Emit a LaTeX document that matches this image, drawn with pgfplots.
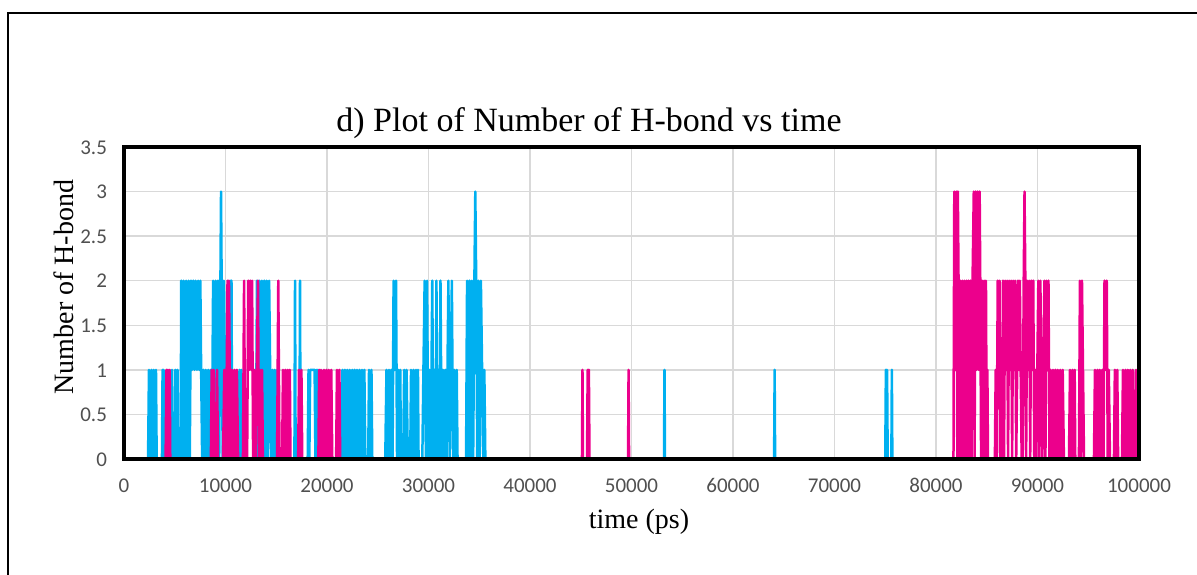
\documentclass[border=0pt]{standalone}
\usepackage{pgfplots}
\pgfplotsset{compat=1.18}
\usepackage{fontspec}
\setmainfont{Liberation Serif}
\newfontfamily\tickfont{Carlito}
\definecolor{hbblue}{RGB}{0,176,240}
\definecolor{hbpink}{RGB}{236,0,140}
\definecolor{gridgray}{RGB}{217,217,217}
\definecolor{tickgray}{RGB}{80,80,80}
\begin{document}
\begin{tikzpicture}[x=1pt,y=1pt]
\useasboundingbox (0,0) rectangle (598.5,287);
\begin{axis}[
  name=ax,
  at={(62pt,57.5pt)}, anchor=south west,
  width=507.5pt, height=156pt, scale only axis,
  xmin=0, xmax=100000, ymin=0, ymax=3.5,
  xtick={0,10000,20000,30000,40000,50000,60000,70000,80000,90000,100000},
  ytick={0,0.5,1,1.5,2,2.5,3,3.5},
  scaled x ticks=false,
  xticklabel style={/pgf/number format/fixed, /pgf/number format/1000 sep={}},
  /pgf/number format/assume math mode=true,
  typeset ticklabels with strut,
  major tick length=0pt,
  grid=major,
  major grid style={draw=gridgray, line width=0.75pt},
  axis line style={draw=black, line width=2pt},
  tick label style={font=\tickfont\fontsize{10.5}{12}\selectfont, text=tickgray},
  xticklabel shift=5pt,
  yticklabel shift=5pt,
  yticklabel style={yshift=-1.2pt},
]
\addplot[hbblue, line width=1.25pt, line join=round, mark=none] coordinates {
(0,0)
(2370,0)(2460,1)(2580,0)(2700,1)(2820,0)(2940,1)(3060,0)(3150,1)(3220,0)
(3740,0)(3800,1)(3860,0)(3900,1)(3960,0)
(4180,0)(4230,1)(4280,0)
(4680,0)(4730,1)(4780,0)
(5000,0)(5060,1)(5180,0)(5280,1)(5340,0)
(5580,0)(5640,2)(5760,0)(5880,2)(6000,0)(6120,2)(6240,0)(6360,2)(6480,0)(6600,2)(6700,1)
(6820,2)(6940,1)(7060,2)(7180,1)(7300,2)(7420,1)(7520,2)(7600,1)
(7700,0)(7820,1)(7940,0)(8060,1)(8180,0)(8300,1)(8420,0)(8540,1)(8660,0)
(8780,2)(8900,0)(9020,2)(9140,0)(9260,2)(9380,0)(9500,2)(9560,3)(9620,2)(9720,0)(9840,2)(9940,1)(10020,0)
(10380,0)(10450,2)(10520,0)(10590,2)(10660,0)
(11300,0)(11380,1)(11480,0)(11560,1)(11640,0)
(13000,0)(13100,2)(13220,0)(13340,2)(13460,0)(13580,2)(13700,0)(13820,2)(13940,0)(14060,2)(14180,0)(14300,2)(14400,1)
(14500,0)(14620,1)(14740,0)(14860,1)(14980,0)(15100,1)(15190,0)
(16790,0)(16850,2)(16910,0)(17280,0)(17340,2)(17400,0)
(18100,0)(18180,1)(18260,0)(18340,1)(18780,1)(18860,0)(18940,1)(19020,0)(19100,1)(19180,0)
(21400,0)(21520,1)(21640,0)(21760,1)(21880,0)(22000,1)(22120,0)(22240,1)(22360,0)(22480,1)(22600,0)(22720,1)(22840,0)(22960,1)(23080,0)(23200,1)(23320,0)(23440,1)(23560,0)(23680,1)(23780,0)
(24060,0)(24140,1)(24260,0)(24380,1)(24460,0)
(25740,0)(25860,1)(25980,0)(26100,1)(26220,0)(26340,1)(26460,0)(26560,2)(26680,1)(26800,2)(26900,0)(27020,1)(27140,0)(27220,1)(27280,0)
(27510,0)(27600,1)(27720,0)(27840,1)(27960,0)(28200,0)(28280,1)(28400,0)(28520,1)(28640,0)(28760,1)(28880,0)(28960,1)(29020,0)
(29390,0)(29500,1)(29620,2)(29740,0)(29860,2)(29980,0)(30100,1)(30220,0)(30370,2)(30480,0)(30600,1)(30700,0)(30780,2)(30900,0)(31000,1)(31100,0)(31180,2)(31300,0)(31420,1)(31540,0)(31660,1)(31780,0)(31960,2)(32080,0)(32200,1)(32300,2)(32420,0)(32540,1)(32660,0)(32780,1)(32860,0)
(33700,0)(33800,2)(33920,0)(34040,2)(34160,0)(34280,2)(34400,0)(34520,2)(34610,3)(34700,2)(34800,0)(34920,2)(35040,0)(35160,2)(35280,1)(35400,0)(35500,1)(35600,0)
(53200,0)(53250,1)(53300,0)
(64050,0)(64100,1)(64150,0)
(75000,0)(75060,1)(75120,0)(75180,1)(75240,0)
(75600,0)(75650,1)(75700,0)
(100000,0)
};
\addplot[hbpink, line width=1.25pt, line join=round, mark=none] coordinates {
(0,0)
(4100,0)(4180,1)(4260,0)(4340,1)(4420,0)(4500,1)(4560,0)
(8560,0)(8640,1)(8740,0)(8840,1)(8900,0)
(9080,0)(9170,1)(9260,0)
(9760,0)(9880,1)(10000,0)(10120,1)(10200,2)(10280,0)(10340,2)(10420,1)(10520,0)(10640,1)(10760,0)(10880,1)(11000,0)(11120,1)(11240,0)
(11720,0)(11830,2)(11940,0)
(12130,0)(12240,2)(12340,1)(12440,2)(12540,1)(12620,2)(12720,0)(12840,1)(12960,0)(13080,1)(13200,2)(13300,0)(13400,1)(13500,0)(13600,1)(13680,0)
(15080,0)(15200,2)(15320,0)
(15580,0)(15660,1)(15780,0)(15900,1)(16020,0)(16140,1)(16260,0)(16340,1)(16400,0)
(17160,0)(17240,1)(17360,0)(17480,1)(17560,0)
(19150,0)(19230,1)(19330,0)(19410,1)(19470,0)
(19620,0)(19700,1)(19820,0)(19940,1)(20060,0)(20180,1)(20300,0)(20420,1)(20520,0)
(20900,0)(20980,1)(21100,0)(21220,1)(21300,0)
(45120,0)(45170,1)(45220,0)
(45620,0)(45680,1)(45740,0)(45800,1)(45860,0)
(49660,0)(49710,1)(49760,0)
(81720,0)(81800,3)(81900,1)(82000,3)(82100,0)(82150,3)(82220,2)(82300,0)(82400,2)(82500,0)(82600,2)(82700,0)(82800,2)(82900,0)(83000,2)(83100,0)(83200,2)(83300,0)(83400,2)(83500,0)(83600,2)(83720,3)(83800,0)(83900,3)(84000,1)(84100,3)(84200,1)(84300,3)(84360,2)(84440,0)(84540,2)(84640,0)(84740,2)(84840,0)(84920,2)(85000,0)(85060,1)(85120,0)
(85800,0)(85880,1)(85980,0)(86080,2)(86180,1)(86260,2)(86320,0)
(86490,0)(86600,2)(86700,0)(86800,2)(86900,1)(87000,2)(87100,0)(87200,2)(87300,1)(87400,2)(87500,0)(87600,2)(87700,1)(87800,2)(87900,0)(88000,1)(88080,2)(88180,1)(88260,2)(88340,1)(88440,0)
(88540,0)(88640,2)(88720,3)(88800,2)(88880,0)(88980,2)(89080,1)(89180,2)(89280,0)(89380,2)(89480,1)(89580,2)(89680,0)(89780,1)(89880,0)(89980,1)(90080,2)(90180,0)(90280,2)(90380,1)(90480,0)(90580,1)
(90680,2)(90780,0)(90880,2)(90980,1)(91080,2)(91180,0)
(91280,1)(91400,0)(91520,1)(91640,0)(91760,1)(91880,0)(92000,1)(92120,0)(92240,1)(92360,0)(92480,1)(92600,0)
(93100,0)(93200,1)(93320,0)(93440,1)(93560,0)(93660,1)(93720,0)
(94080,0)(94180,2)(94280,0)(94380,2)(94480,1)(94580,0)
(95560,0)(95660,1)(95780,0)(95900,1)(96020,0)(96140,1)(96260,0)(96380,1)(96500,0)(96600,2)(96720,1)(96820,2)(96920,0)(97020,1)(97140,0)
(97530,0)(97620,1)(97740,0)(97860,1)(97940,0)
(98320,0)(98420,1)(98540,0)(98660,1)(98780,0)(98900,1)(99020,0)(99140,1)(99260,0)(99380,1)(99500,0)
(99600,0)(99700,1)(99800,0)(99900,1)(100000,1)
};
\end{axis}
\draw[black, line width=2pt] (ax.south west) rectangle (ax.north east);
\node[anchor=base, font=\fontsize{17}{20}\selectfont, inner sep=0pt] at (294.5,221.5) {d) Plot of Number of H-bond vs time};
\node[anchor=base, font=\fontsize{14}{17}\selectfont, inner sep=0pt] at (319.5,23) {time (ps)};
\node[anchor=base, rotate=90, font=\fontsize{14}{17}\selectfont, inner sep=0pt] at (36.5,143.5) {Number of H-bond};
\draw[black, line width=1pt] (4,-2) -- (4,280.5) -- (600,280.5);
\end{tikzpicture}
\end{document}
